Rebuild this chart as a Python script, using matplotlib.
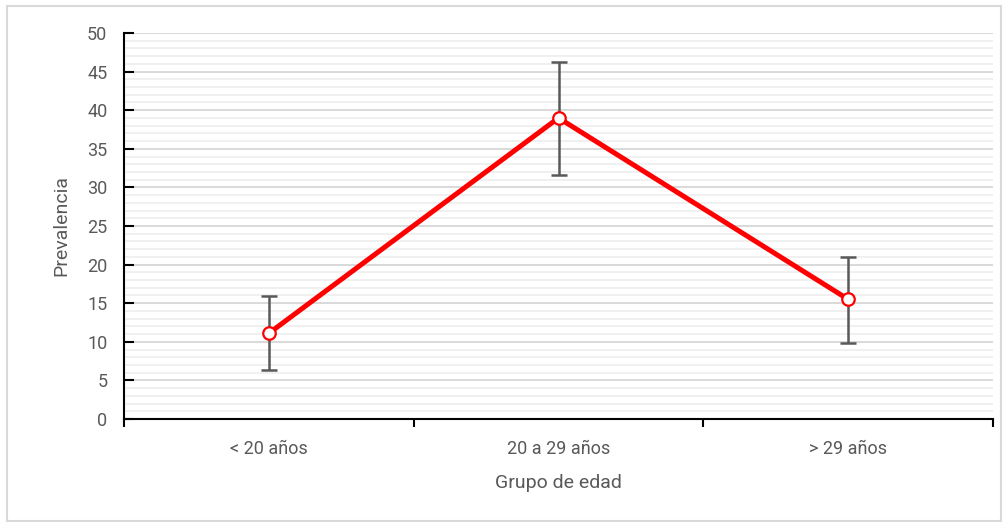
import matplotlib.pyplot as plt
from matplotlib.patches import Rectangle
from matplotlib.ticker import MultipleLocator

categories = ["< 20 años", "20 a 29 años", "> 29 años"]
prevalence = [11.1, 39.0, 15.5]
err_low = [6.3, 31.6, 9.8]
err_high = [15.9, 46.2, 21.0]

plt.rcParams['font.family'] = ['Roboto', 'DejaVu Sans']
text_color = "#595959"

fig = plt.figure(figsize=(10.08, 5.22), dpi=100)
ax = fig.add_axes([124 / 1008, 1 - 419 / 522, (993 - 124) / 1008, (419 - 33) / 522])

# outer frame
fig.patches.append(Rectangle((7 / 1008, 1 / 522), 994 / 1008, 515 / 522,
                             transform=fig.transFigure, fill=False,
                             edgecolor="#d9d9d9", linewidth=1.5))

x = list(range(len(categories)))
yerr = [[p - lo for p, lo in zip(prevalence, err_low)],
        [hi - p for p, hi in zip(prevalence, err_high)]]

ax.errorbar(x, prevalence, yerr=yerr, fmt="none", ecolor="#595959",
            elinewidth=1.8, capsize=6, capthick=1.8, zorder=3)
ax.plot(x, prevalence, color="#ff0000", linewidth=3.6, marker="o",
        markersize=9, markerfacecolor="white", markeredgecolor="#ff0000",
        markeredgewidth=1.6, zorder=4)

ax.set_xlim(-0.5, 2.5)
ax.set_ylim(0, 50)
ax.yaxis.set_major_locator(MultipleLocator(5))
ax.yaxis.set_minor_locator(MultipleLocator(1))
ax.grid(which="major", axis="y", color="#d9d9d9", linewidth=1.4, zorder=0)
ax.grid(which="minor", axis="y", color="#f0f0f0", linewidth=1.4, zorder=0)
ax.set_axisbelow(True)

ax.set_xticks([-0.5, 0.5, 1.5, 2.5])
ax.set_xticklabels([])
ax.set_xticks(x, minor=True)
ax.set_xticklabels(categories, minor=True)
ax.tick_params(axis="x", which="major", direction="out", length=6, width=1.5, color="black")
ax.tick_params(axis="x", which="minor", length=0, pad=15, labelsize=13, labelcolor=text_color)
ax.tick_params(axis="y", which="major", direction="in", length=7, width=1.5, color="black",
               pad=12, labelsize=13, labelcolor=text_color)
ax.tick_params(axis="y", which="minor", length=0)

for side in ["top", "right"]:
    ax.spines[side].set_visible(False)
for side in ["left", "bottom"]:
    ax.spines[side].set_linewidth(1.5)
    ax.spines[side].set_color("black")

ax.set_ylabel("Prevalencia", fontsize=14, color=text_color, labelpad=12)
ax.set_xlabel("Grupo de edad", fontsize=14, color=text_color, labelpad=12)

fig.savefig("out.png", dpi=100)
